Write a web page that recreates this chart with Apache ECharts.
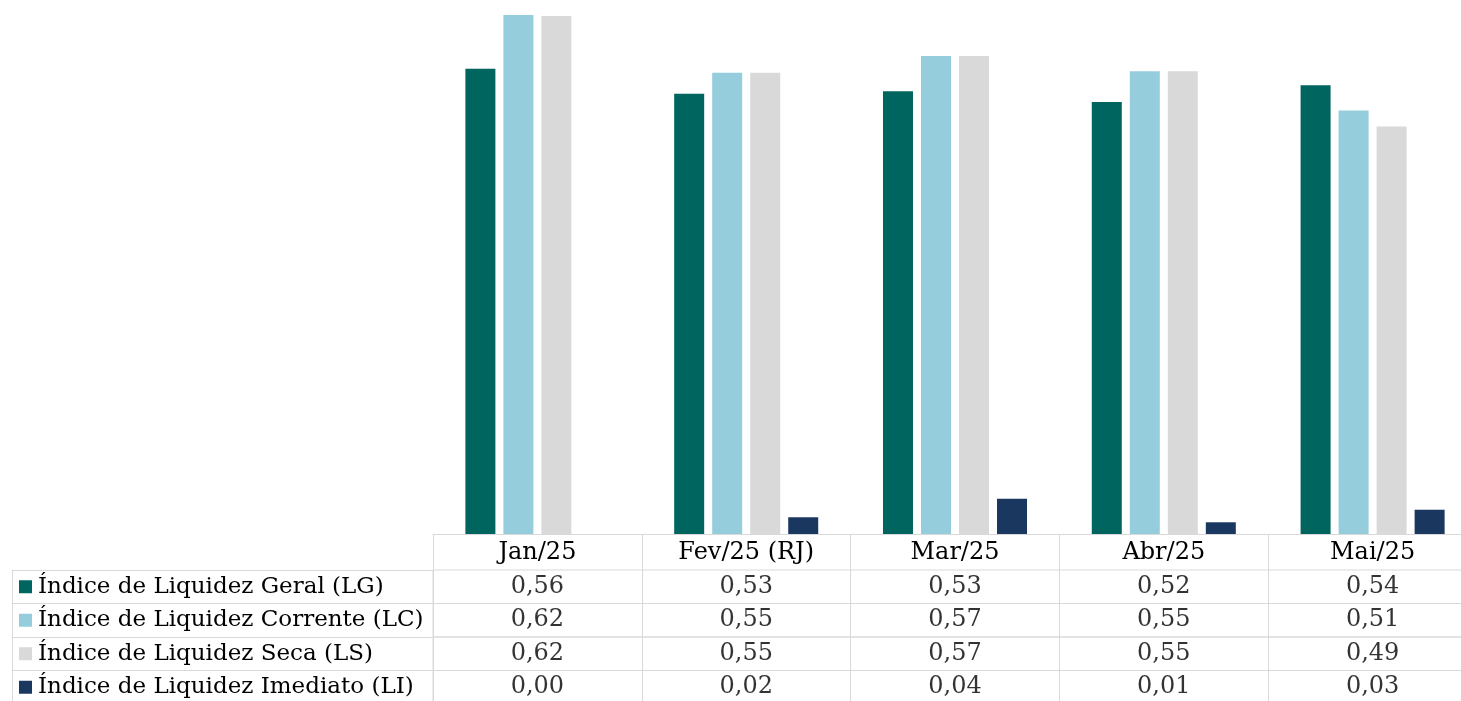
<!DOCTYPE html>
<html>
<head>
<meta charset="utf-8">
<script src="https://cdn.jsdelivr.net/npm/echarts@6/dist/echarts.min.js"></script>
<style>
html, body { margin: 0; padding: 0; background: #fff; }
#container { width: 1461px; height: 701px; }
</style>
</head>
<body>
<div id="container"></div>
<script>
var dom = document.getElementById("container");
var myChart = echarts.init(dom);

var months = ['Jan/25', 'Fev/25 (RJ)', 'Mar/25', 'Abr/25', 'Mai/25'];
var names = [
	'Índice de Liquidez Geral (LG)',
	'Índice de Liquidez Corrente (LC)',
	'Índice de Liquidez Seca (LS)',
	'Índice de Liquidez Imediato (LI)'
];
var lg = [0.556, 0.526, 0.529, 0.516, 0.536];
var lc = [0.620, 0.551, 0.571, 0.553, 0.506];
var ls = [0.619, 0.551, 0.571, 0.553, 0.487];
var li = [0.000, 0.020, 0.042, 0.014, 0.029];

var colorList = ['#00645f', '#95cddd', '#d9d9d9', '#1a3760'];
var lineColor = '#d9d9d9';
var font = 'DejaVu Serif';

var seriesData = [lg, lc, ls, li];

function fmt(v) {
	return v.toFixed(2).replace('.', ',');
}

var plotLeft = 433;
var plotWidth = 1044;
var rowTop = 570;
var rowH = 33.5;

var grids = [{
	left: plotLeft, width: plotWidth, top: 0, height: 534,
	outerBoundsMode: 'none'
}];
var xAxes = [{
	type: 'category',
	gridIndex: 0,
	data: months,
	axisLine: { show: true, lineStyle: { color: lineColor, width: 1 } },
	axisTick: { show: true, length: 36, lineStyle: { color: lineColor } },
	axisLabel: { color: '#000', fontSize: 24, fontFamily: font, margin: 7, interval: 0 },
	splitLine: { show: false }
}];
var yAxes = [{
	type: 'value',
	gridIndex: 0,
	min: 0,
	max: 0.638,
	show: false
}];
var series = [];

// barras
seriesData.forEach(function (vals, k) {
	series.push({
		name: names[k],
		type: 'bar',
		xAxisIndex: 0,
		yAxisIndex: 0,
		barWidth: 30,
		barGap: '26.7%',
		itemStyle: { color: colorList[k] },
		data: vals,
		silent: true
	});
});

// tabela de dados
names.forEach(function (name, r) {
	var gi = r + 1;
	grids.push({
		left: plotLeft, width: plotWidth, top: rowTop + r * rowH, height: rowH,
		show: true, borderColor: lineColor, borderWidth: 1,
		outerBoundsMode: 'none'
	});
	xAxes.push({
		type: 'category',
		gridIndex: gi,
		data: months,
		axisLine: { show: false },
		axisTick: { show: false },
		axisLabel: { show: false },
		splitLine: { show: true, interval: 0, lineStyle: { color: lineColor, width: 1 } }
	});
	var yIdx = yAxes.length;
	yAxes.push({
		type: 'category',
		gridIndex: gi,
		data: [name],
		axisLine: { show: false },
		axisTick: { show: true, length: plotLeft - 12, lineStyle: { color: lineColor } },
		axisLabel: {
			align: 'left',
			margin: plotLeft - 19,
			formatter: function (v) { return '{sq| }{t|' + v + '}'; },
			rich: {
				sq: { width: 13, height: 13, backgroundColor: colorList[r], fontSize: 1 },
				t: { color: '#000', fontSize: 23, fontFamily: font, padding: [0, 0, 0, 6] }
			}
		},
		splitLine: { show: false }
	});
	yAxes.push({
		type: 'category',
		gridIndex: gi,
		data: [''],
		position: 'left',
		offset: plotLeft - 12,
		axisLine: { show: true, lineStyle: { color: lineColor } },
		axisTick: { show: false },
		axisLabel: { show: false },
		splitLine: { show: false }
	});
	series.push({
		type: 'scatter',
		xAxisIndex: gi,
		yAxisIndex: yIdx,
		symbolSize: 1,
		itemStyle: { color: 'rgba(0,0,0,0)' },
		silent: true,
		label: {
			show: true,
			position: 'inside',
			color: '#000',
			fontSize: 24,
			fontFamily: font,
			formatter: function (p) { return fmt(p.value[2]); }
		},
		data: seriesData[r].map(function (v, j) { return [j, 0, v]; })
	});
});

var option = {
	animation: false,
	backgroundColor: '#fff',
	grid: grids,
	xAxis: xAxes,
	yAxis: yAxes,
	series: series
};
myChart.setOption(option);
</script>
</body>
</html>
